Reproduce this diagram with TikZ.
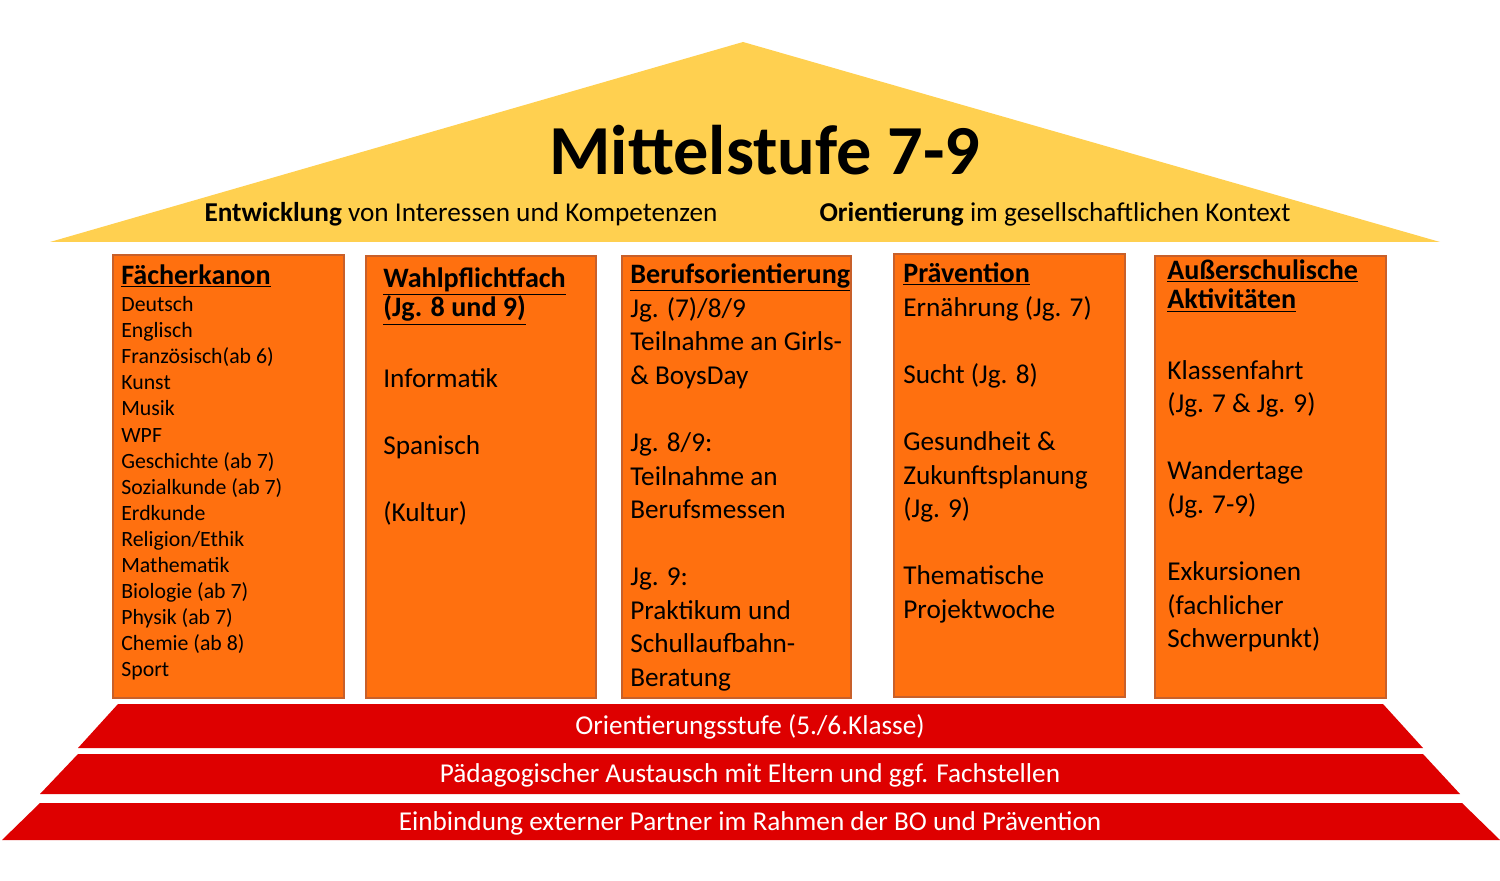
\documentclass[tikz,border=0pt]{standalone}
\usepackage{fontspec}
\setmainfont{Carlito}
\definecolor{roof}{HTML}{FFD050}
\definecolor{col}{HTML}{FF700F}
\definecolor{colb}{HTML}{C8602A}
\definecolor{step}{HTML}{DE0000}
\tikzset{
 pillar/.style={fill=col,draw=colb,line width=0.6pt},
 stepshape/.style={fill=step,draw=none},
 steptext/.style={text=white,font=\fontsize{15.5}{18}\selectfont},
 head/.style={anchor=north west,inner sep=0,font=\fontsize{16}{19}\selectfont\bfseries,align=left},
 body/.style={anchor=north west,inner sep=0,font=\fontsize{15.5}{19.1}\selectfont,align=left},
 small/.style={anchor=north west,inner sep=0,font=\fontsize{12.4}{14.86}\selectfont,align=left},
}
\begin{document}
\begin{tikzpicture}[x=0.02cm,y=-0.02cm]
\useasboundingbox (0,0) rectangle (1500,881);
\fill[white] (0,0) rectangle (1500,881);
% roof
\fill[roof] (743,42) -- (1440,242) -- (50,242) -- cycle;
\node (title) at (765,150) {\fontsize{40}{48}\selectfont\bfseries Mittelstufe 7-9};
\node[anchor=base] (sub1) at (461,222) {\fontsize{15.5}{18}\selectfont\textbf{Entwicklung} von Interessen und Kompetenzen};
\node[anchor=base] (sub2) at (1055,222) {\fontsize{15.5}{18}\selectfont\textbf{Orientierung} im gesellschaftlichen Kontext};
% pillars
\draw[pillar] (113,255) rectangle (344,698);
\draw[pillar] (366,256) rectangle (596,698);
\draw[pillar] (622,256) rectangle (851,698);
\draw[pillar] (894,254) rectangle (1125,697);
\draw[pillar] (1155,256) rectangle (1386,698);
% column 1
\node[head] (h1) at (121,264) {\underline{Fächerkanon}};
\node[small] (c1) at (121,296) {Deutsch\\Englisch\\Französisch(ab 6)\\Kunst\\Musik\\WPF\\Geschichte (ab 7)\\Sozialkunde (ab 7)\\Erdkunde\\Religion/Ethik\\Mathematik\\Biologie (ab 7)\\Physik (ab 7)\\Chemie (ab 8)\\Sport};
% column 2
\node[head] (h2) at (383,267) {\underline{Wahlpflichtfach}\\[-2pt]\underline{(Jg. 8 und 9)}};
\node[body] (c2) at (383,368) {Informatik\\[19.1pt]Spanisch\\[19.1pt](Kultur)};
% column 3
\node[head] (h3) at (630,263) {\underline{Berufsorientierung}};
\node[body] (c3) at (630,297) {Jg. (7)/8/9\\Teilnahme an Girls-\\\& BoysDay\\[19.1pt]Jg. 8/9:\\Teilnahme an\\Berufsmessen\\[19.1pt]Jg. 9:\\Praktikum und\\Schullaufbahn-\\Beratung};
% column 4
\node[head] (h4) at (903,262) {\underline{Prävention}};
\node[body] (c4) at (903,296) {Ernährung (Jg. 7)\\[19.1pt]Sucht (Jg. 8)\\[19.1pt]Gesundheit \&\\Zukunftsplanung\\(Jg. 9)\\[19.1pt]Thematische\\Projektwoche};
% column 5
\node[head] (h5) at (1167,259) {\underline{Außerschulische}\\[-2pt]\underline{Aktivitäten}};
\node[body] (c5) at (1167,360) {Klassenfahrt\\(Jg. 7 \& Jg. 9)\\[19.1pt]Wandertage\\(Jg. 7-9)\\[19.1pt]Exkursionen\\(fachlicher\\Schwerpunkt)};
% steps
\fill[stepshape] (118,704) -- (1383,704) -- (1423,748) -- (78,748) -- cycle;
\fill[stepshape] (78,754) -- (1423,754) -- (1460,794) -- (40,794) -- cycle;
\fill[stepshape] (40,803) -- (1462,803) -- (1500,840) -- (2,840) -- cycle;
\node[steptext] (s1) at (750,727) {Orientierungsstufe (5./6.Klasse)};
\node[steptext] (s2) at (750,775) {Pädagogischer Austausch mit Eltern und ggf. Fachstellen};
\node[steptext] (s3) at (750,823) {Einbindung externer Partner im Rahmen der BO und Prävention};
\end{tikzpicture}
\end{document}
